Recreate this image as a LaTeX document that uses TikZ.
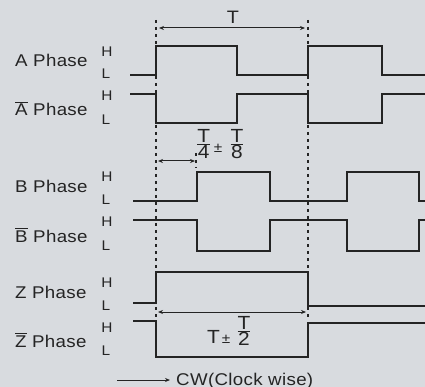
\documentclass[tikz,border=0pt]{standalone}
\usepackage{amsmath}
\usepackage{fontspec}
\setmainfont{Liberation Sans}[FakeStretch=1.1, LetterSpace=2]
\usetikzlibrary{arrows.meta}
\definecolor{panel}{RGB}{216,219,223}
\definecolor{ink}{RGB}{36,36,36}
\newcommand{\barred}[1]{$\overline{\hbox{#1}}$}
\newcommand{\tolsign}{{\fontsize{14}{15}\selectfont ±}}
\newcommand{\ratio}[2]{$\frac{\hbox{\fontsize{19}{21}\selectfont #1}}{\hbox{\fontsize{19}{21}\selectfont #2}}$}

\begin{document}
\begin{tikzpicture}[x=1pt, y=-1pt,
    sig/.style={ink, line width=1.8pt},
    guide/.style={ink, line width=1.6pt, dash pattern=on 3pt off 4pt},
    dim/.style={ink, line width=1pt, {Stealth[length=5pt,width=4pt]}-{Stealth[length=5pt,width=4pt]}},
    phase/.style={anchor=base west, inner sep=0pt, text=ink, font=\fontsize{17}{20}\selectfont},
    lvl/.style={anchor=base, inner sep=0pt, text=ink, font=\fontsize{14}{16}\selectfont}]
    \fill[panel] (0,0) rectangle (425,387);
    \useasboundingbox (0,0) rectangle (425,387);

    % phase names and levels
    \node[phase] (nameA)  at (15,67)  {A Phase};
    \node[phase] (nameAn) at (15,116) {\barred{A} Phase};
    \node[phase] (nameB)  at (15,193) {B Phase};
    \node[phase] (nameBn) at (15,242) {\barred{B} Phase};
    \node[phase] (nameZ)  at (15,298) {Z Phase};
    \node[phase] (nameZn) at (15,347) {\barred{Z} Phase};

    \node[lvl] (hA)  at (107,57)  {H};  \node[lvl] (lA)  at (106,79)  {L};
    \node[lvl] (hAn) at (107,101) {H};  \node[lvl] (lAn) at (106,125) {L};
    \node[lvl] (hB)  at (107,182) {H};  \node[lvl] (lB)  at (106,205) {L};
    \node[lvl] (hBn) at (107,226) {H};  \node[lvl] (lBn) at (106,250) {L};
    \node[lvl] (hZ)  at (107,287) {H};  \node[lvl] (lZ)  at (106,310) {L};
    \node[lvl] (hZn) at (107,332) {H};  \node[lvl] (lZn) at (106,355) {L};

    % pulse trains
    \draw[sig] (130,75) -- (156,75) -- (156,46) -- (237,46) -- (237,75) -- (308,75) -- (308,46) -- (382,46) -- (382,75) -- (425,75);
    \draw[sig] (130,94) -- (156,94) -- (156,123) -- (237,123) -- (237,94) -- (308,94) -- (308,123) -- (382,123) -- (382,94) -- (425,94);
    \draw[sig] (133,201) -- (197,201) -- (197,172) -- (270,172) -- (270,201) -- (347,201) -- (347,172) -- (419,172) -- (419,201) -- (425,201);
    \draw[sig] (133,220) -- (197,220) -- (197,251) -- (270,251) -- (270,220) -- (347,220) -- (347,251) -- (419,251) -- (419,220) -- (425,220);
    \draw[sig] (133,303) -- (156,303) -- (156,272) -- (308,272) -- (308,306) -- (425,306);
    \draw[sig] (133,321) -- (156,321) -- (156,357) -- (308,357) -- (308,323) -- (425,323);

    % reference edges
    \coordinate (edgeL) at (156,20);
    \coordinate (edgeLb) at (156,318);
    \coordinate (edgeR) at (308,20);
    \coordinate (edgeRb) at (308,318);
    \draw[guide] (edgeL) -- (edgeLb);
    \draw[guide] (edgeR) -- (edgeRb);
    \coordinate (shiftT) at (196,153);
    \coordinate (shiftB) at (196,168);
    \draw[guide] (shiftT) -- (shiftB);

    % timing marks
    \coordinate (perL) at (159,28);
    \coordinate (perR) at (305,28);
    \draw[dim] (perL) -- (perR);
    \node[inner sep=0pt, text=ink, font=\fontsize{18}{20}\selectfont] (period) at (233,17) {T};

    \coordinate (qL) at (158,161);
    \coordinate (qR) at (195,161);
    \draw[dim] (qL) -- (qR);
    \node[anchor=base west, inner sep=0pt, text=ink, font=\fontsize{17}{20}\selectfont] (quarter) at (196,149)
        {\ratio{T}{4}\hspace{2.5pt}\raisebox{-4pt}{\tolsign}\hspace{7pt}\ratio{T}{8}};

    \coordinate (zL) at (158,312);
    \coordinate (zR) at (306,312);
    \draw[dim] (zL) -- (zR);
    \node[anchor=base west, inner sep=0pt, text=ink, font=\fontsize{18}{20}\selectfont] (zwidth) at (207,343)
        {{\fontsize{19}{22}\selectfont T}\hspace{2pt}\tolsign\hspace{6pt}\raisebox{7pt}{\ratio{T}{2}}};

    % direction
    \coordinate (cwL) at (117,380);
    \node[anchor=base west, inner sep=0pt, text=ink, font=\fontsize{17}{20}\selectfont] (cw) at (176,385) {CW(Clock wise)};
    \draw[ink, line width=1pt, -{Stealth[length=5pt,width=4pt]}, shorten >=6pt] (cwL) -- (cw.west |- cwL);
\end{tikzpicture}
\end{document}
